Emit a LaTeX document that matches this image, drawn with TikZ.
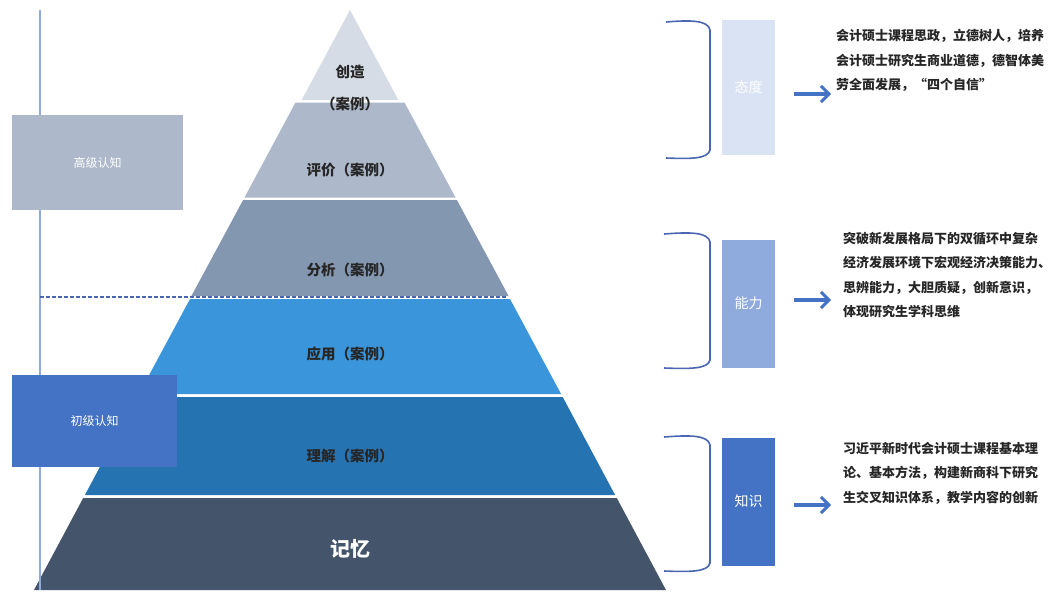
\documentclass[tikz,border=0pt]{standalone}
\usepackage{fontspec}
\newfontfamily\cjk{Noto Sans CJK SC}
\usetikzlibrary{arrows.meta}
\definecolor{cA}{HTML}{D6DCE6}
\definecolor{cB}{HTML}{ADB9CA}
\definecolor{cC}{HTML}{8497B0}
\definecolor{cD}{HTML}{3A95DA}
\definecolor{cE}{HTML}{2673B2}
\definecolor{cF}{HTML}{44546A}
\definecolor{boxHi}{HTML}{ADB9CA}
\definecolor{boxLo}{HTML}{4472C4}
\definecolor{tdBox}{HTML}{DAE3F3}
\definecolor{nlBox}{HTML}{8FAADC}
\definecolor{zsBox}{HTML}{4472C4}
\definecolor{lineC}{HTML}{8FAADC}
\definecolor{brC}{HTML}{4A66B0}
\definecolor{arrC}{HTML}{4472C4}
\tikzset{
  lab/.style={font=\cjk\bfseries\fontsize{14.5}{16}\selectfont, text=black!85},
  sidebox/.style={draw=none, minimum width=53pt, inner sep=0pt, font=\cjk\fontsize{14}{16}\selectfont, text=white},
  lvlbox/.style={draw=none, inner sep=0pt, font=\cjk\fontsize{12}{14}\selectfont, text=white},
  desc/.style={anchor=north west, align=left, inner sep=0pt, font=\cjk\bfseries\fontsize{13}{24.5}\selectfont, text=black!85},
  brk/.style={draw=brC, line width=1.6pt},
  arr/.style={draw=arrC, line width=4pt, -{Straight Barb[length=8pt,width=16pt,line width=3pt]}}
}
\begin{document}
\begin{tikzpicture}[x=1pt,y=-1pt]
\useasboundingbox (0,0) rectangle (1051,592);
% half width = (y-10)*0.538, centre x=350
\fill[cA] (350,10) -- (398.4,100) -- (301.6,100) -- cycle;
\fill[cB] (295.5,102.5) -- (404.5,102.5) -- (455.5,197.5) -- (244.5,197.5) -- cycle;
\fill[cC] (243.1,200) -- (456.9,200) -- (508.6,296) -- (191.4,296) -- cycle;
\fill[cD] (190,299) -- (510,299) -- (561.1,394) -- (138.9,394) -- cycle;
\fill[cE] (137.3,397) -- (562.7,397) -- (615.1,495) -- (84.9,495) -- cycle;
\fill[cF] (83.2,498) -- (616.8,498) -- (666.0,590) -- (34.0,590) -- cycle;
% left axis
\draw[lineC, line width=1.3pt] (40,10) -- (40,590);
\draw[brC, line width=1.2pt, dashed, dash pattern=on 4pt off 2pt] (40,297) -- (507,297);
% level boxes
\node[lvlbox, fill=boxHi, minimum width=171pt, minimum height=95pt] (hi) at (97.5,162.5) {高级认知};
\node[lvlbox, fill=boxLo, minimum width=165pt, minimum height=92pt] (lo) at (94.5,421) {初级认知};
% pyramid labels
\node[lab] (l1) at (350,72) {创造};
\node[lab] (l1b) at (350,104) {（案例）};
\node[lab] (l2) at (350,170) {评价（案例）};
\node[lab] (l3) at (350,270) {分析（案例）};
\node[lab] (l4) at (350,354) {应用（案例）};
\node[lab] (l5) at (350,456) {理解（案例）};
\node[lab, text=white, font=\cjk\bfseries\fontsize{20}{22}\selectfont] (l6) at (350,549) {记忆};
% brackets
\draw[brk] (666,22) .. controls (690,20) and (708,20) .. (710,30) -- (710,150) .. controls (708,159) and (690,159) .. (666,158);
\draw[brk] (664,234) .. controls (690,232) and (708,232) .. (710,242) -- (710,360) .. controls (708,369) and (690,369) .. (664,368);
\draw[brk] (664,437) .. controls (690,435) and (708,435) .. (710,445) -- (710,563) .. controls (708,572) and (690,572) .. (664,571);
% side boxes
\node[sidebox, fill=tdBox, minimum height=135pt] (td) at (748.5,87.5) {态度};
\node[sidebox, fill=nlBox, minimum height=128pt] (nl) at (748.5,303.5) {能力};
\node[sidebox, fill=zsBox, minimum height=128pt] (zs) at (748.5,501.5) {知识};
% descriptions
\node[desc] (d1) at (836,29) {会计硕士课程思政，立德树人，培养\\会计硕士研究生商业道德，德智体美\\劳全面发展，“四个自信”};
\node[desc] (d2) at (843,232) {突破新发展格局下的双循环中复杂\\经济发展环境下宏观经济决策能力、\\思辨能力，大胆质疑，创新意识，\\体现研究生学科思维};
\node[desc] (d3) at (843,442) {习近平新时代会计硕士课程基本理\\论、基本方法，构建新商科下研究\\生交叉知识体系，教学内容的创新};
% arrows
\coordinate (a1) at (794,94);
\coordinate (a2) at (794,300);
\coordinate (a3) at (794,505);
\draw[arr] (a1) -- ([xshift=-5pt]a1 -| d1.west);
\draw[arr] (a2) -- ([xshift=-12pt]a2 -| d2.west);
\draw[arr] (a3) -- ([xshift=-12pt]a3 -| d3.west);
\end{tikzpicture}
\end{document}
